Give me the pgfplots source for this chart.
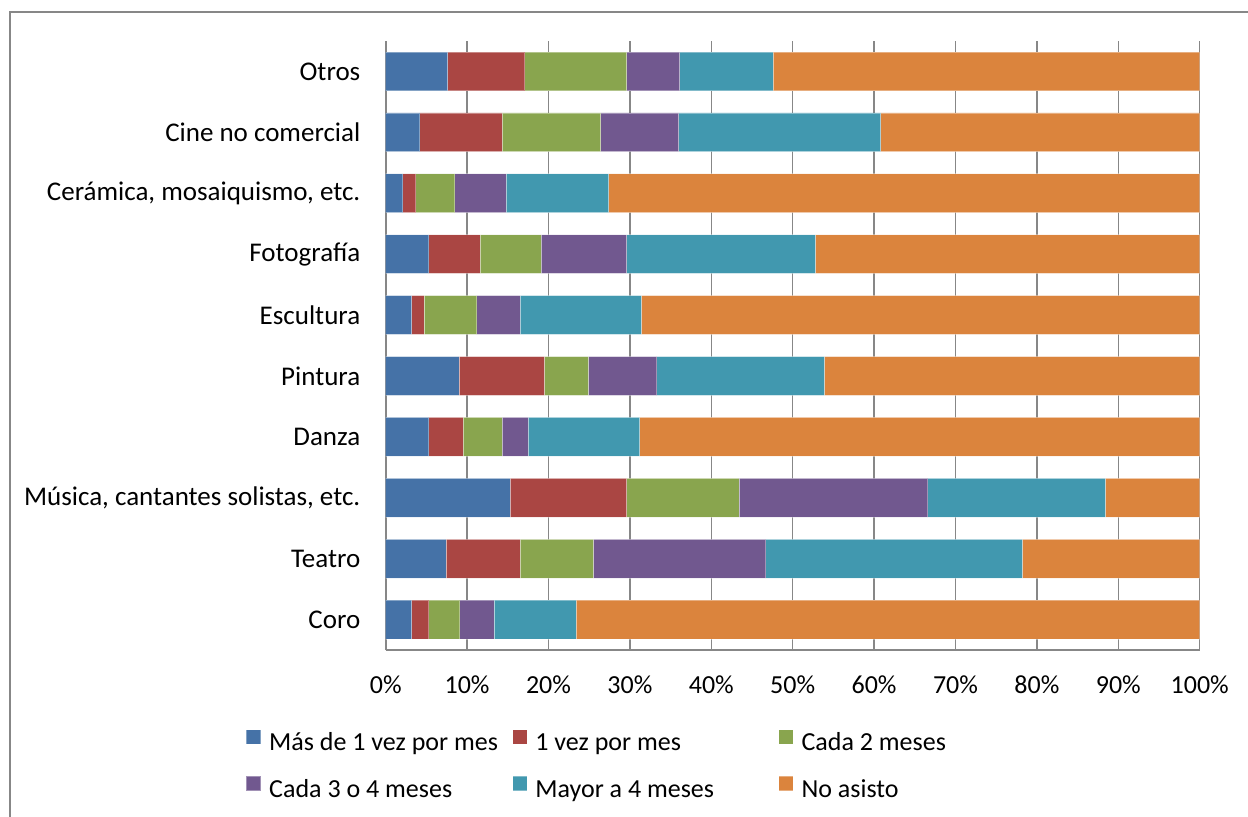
\documentclass[border=0pt]{standalone}
\usepackage{pgfplots}
\usepackage{pgfplotstable}
\pgfplotsset{compat=1.18}
\usepackage{fontspec}
\setmainfont{Carlito}
\definecolor{cA}{HTML}{4572A7}
\definecolor{cB}{HTML}{AA4643}
\definecolor{cC}{HTML}{89A54E}
\definecolor{cD}{HTML}{71588F}
\definecolor{cE}{HTML}{4198AF}
\definecolor{cF}{HTML}{DB843D}
\definecolor{gridc}{HTML}{878787}
\pgfplotstableread{
y  a    b    c    d    e    f
0  3.2  2.1  3.8  4.2  10.1 76.6
1  7.4  9.1  9.0  21.2 31.5 21.8
2  15.3 14.3 13.8 23.2 21.8 11.6
3  5.3  4.2  4.8  3.2  13.7 68.8
4  9.0  10.5 5.4  8.4  20.6 46.1
5  3.2  1.5  6.5  5.3  14.9 68.6
6  5.3  6.3  7.5  10.5 23.2 47.2
7  2.1  1.6  4.8  6.3  12.6 72.6
8  4.2  10.1 12.1 9.6  24.8 39.2
9  7.6  9.5  12.5 6.5  11.5 52.4
}\datatable
\begin{document}
\begin{tikzpicture}
\useasboundingbox (0pt,0pt) rectangle (624pt,408pt);
\draw[gridc, line width=1pt] (5pt,-20pt) rectangle (700pt,402pt);
\begin{axis}[
  at={(192.85pt,83pt)}, anchor=south west,
  scale only axis, width=407pt, height=304.5pt,
  xbar stacked, bar width=19.35pt,
  xmin=0, xmax=100, ymin=-0.5, ymax=9.5,
  enlargelimits=false,
  xtick={0,10,...,100},
  xticklabel={\pgfmathprintnumber{\tick}\%},
  /pgf/number format/assume math mode=true,
  ytick={0,...,9},
  yticklabels={Coro,Teatro,{Música, cantantes solistas, etc.},Danza,Pintura,Escultura,Fotografía,{Cerámica, mosaiquismo, etc.},Cine no comercial,Otros},
  xticklabel style={font=\fontsize{13}{15.6}\selectfont, anchor=base, inner sep=0pt, yshift=-21.65pt},
  yticklabel style={font=\fontsize{13.5}{16}\selectfont, anchor=east, inner sep=0pt, xshift=-12.5pt},
  major tick length=0pt,
  xmajorgrids, grid style={gridc, line width=0.75pt},
  axis x line*=bottom, axis y line*=left,
  axis line style={gridc, line width=1pt, -},
  legend columns=3,
  legend image code/.code={\fill[#1] (0pt,0pt) rectangle (7.2pt,7.2pt);},
  legend style={draw=none, fill=none, inner sep=0pt, outer sep=0pt,
    at={(axis description cs:-0.1716,-0.1305)}, anchor=north west,
    font=\fontsize{13}{15.6}\selectfont,
    nodes={inner sep=0pt, text height=9.5pt, text depth=3pt},
    row sep=9.6pt,
    /tikz/every odd column/.append style={column sep=4pt},
    /tikz/every even column/.append style={column sep=0pt}},
  every axis plot/.append style={draw=white, draw opacity=0.35, line width=0.4pt},
]
\addplot[fill=cA] table[x=a,y=y]{\datatable};
\addplot[fill=cB] table[x=b,y=y]{\datatable};
\addplot[fill=cC] table[x=c,y=y]{\datatable};
\addplot[fill=cD] table[x=d,y=y]{\datatable};
\addplot[fill=cE] table[x=e,y=y]{\datatable};
\addplot[fill=cF] table[x=f,y=y]{\datatable};
\legend{\makebox[121.5pt][l]{Más de 1 vez por mes},\makebox[121.5pt][l]{1 vez por mes},\makebox[121.5pt][l]{Cada 2 meses},\makebox[121.5pt][l]{Cada 3 o 4 meses},\makebox[121.5pt][l]{Mayor a 4 meses},\makebox[121.5pt][l]{No asisto}}
\end{axis}
\end{tikzpicture}
\end{document}
